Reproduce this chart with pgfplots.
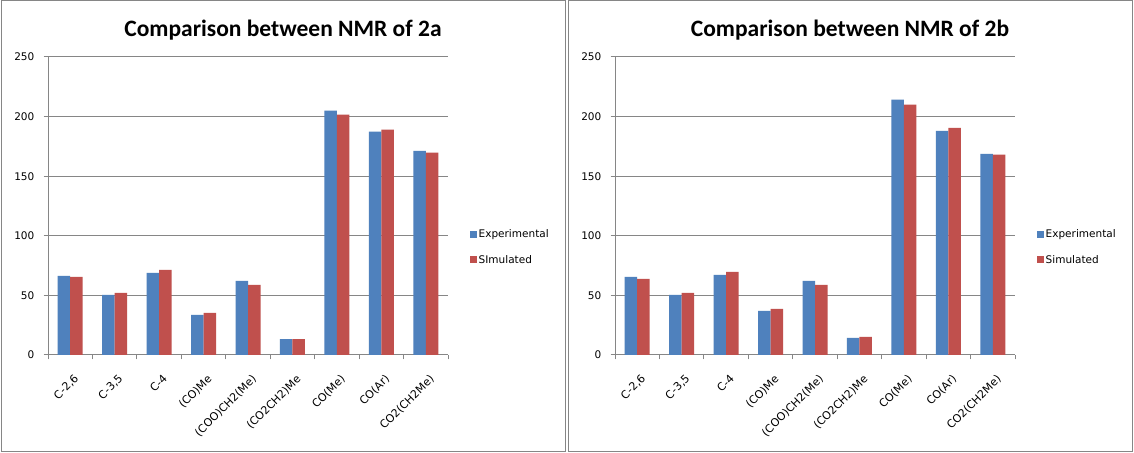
\documentclass[border=0pt]{standalone}
\usepackage{pgfplots}
\usepackage{pgfplotstable}
\pgfplotsset{compat=1.18}
\usepackage{fontspec}
\setmainfont{DejaVu Sans}
\newfontfamily\titlefont{Carlito}
\definecolor{exblue}{HTML}{4F81BD}
\definecolor{exred}{HTML}{C0504D}
\definecolor{gridgray}{HTML}{868686}

\pgfplotstableread{
x exp sim
0 66.3 65.5
1 50.4 52.1
2 68.9 71.4
3 33.6 35.3
4 62.2 58.8
5 13.4 13.4
6 204.9 201.6
7 187.3 189.0
8 171.3 169.7
}\dataA

\pgfplotstableread{
x exp sim
0 65.5 63.8
1 50.4 52.1
2 67.2 69.7
3 37.0 38.6
4 62.2 58.8
5 14.3 15.1
6 214.2 210.0
7 188.1 190.6
8 168.8 168.0
}\dataB

\pgfplotsset{
  nmr/.style={
    width=400bp, height=298bp, scale only axis,
    anchor=south west,
    ymin=0, ymax=250, ytick={0,50,...,250},
    xmin=-0.5, xmax=8.5,
    xtick={-0.5,0.5,...,8.5},
    x tick label as interval,
    xticklabels={{C-2,6}, {C-3,5}, {C-4}, {(CO)Me}, {(COO)CH2(Me)}, {(CO2CH2)Me}, {CO(Me)}, {CO(Ar)}, {CO2(CH2Me)}},
    ymajorgrids, grid style={gridgray, line width=1bp},
    axis x line*=bottom, axis y line*=left,
    axis line style={gridgray, line width=1bp},
    tick style={gridgray, line width=1bp},
    major tick length=4.5bp, tick align=outside,
    /pgf/number format/assume math mode=true,
    ticklabel style={font=\fontsize{10.5bp}{12bp}\selectfont, text=black},
    yticklabel style={inner sep=0pt, anchor=east, xshift=-9bp},
    xticklabel style={inner sep=0pt, font=\fontsize{11bp}{12bp}\selectfont, rotate=45, anchor=north east, xshift=-7.8bp, yshift=-12bp},
    ybar=0pt, bar width=12.5bp,
    legend style={draw=none, fill=none, at={(1,0.362)}, anchor=west, xshift=22bp,
      font=\fontsize{10.5bp}{12bp}\selectfont, inner sep=0pt, row sep=13bp,
      nodes={inner sep=1.5bp, anchor=west}},
    legend cell align=left,
    legend image code/.code={\fill[##1] (0bp,-3.5bp) rectangle (7bp,3.5bp);},
  }
}

\begin{document}
\begin{tikzpicture}[x=1bp,y=1bp]
\path[use as bounding box] (0,0) rectangle (1134,453);
\fill[white] (0,0) rectangle (1134,453);
\draw[gridgray, line width=1bp] (1.5,1.5) rectangle (565,452);
\draw[gridgray, line width=1bp] (568,1.5) rectangle (1132.5,452);
\node[font=\titlefont\bfseries\fontsize{23.5bp}{27bp}\selectfont, anchor=base] at (283,416) {Comparison between NMR of 2a};
\node[font=\titlefont\bfseries\fontsize{23.5bp}{27bp}\selectfont, anchor=base] at (850,416) {Comparison between NMR of 2b};

\begin{axis}[nmr, at={(48bp,98bp)}]
\addplot[fill=exblue, draw=none] table[x=x, y=exp]{\dataA};
\addplot[fill=exred, draw=none] table[x=x, y=sim]{\dataA};
\legend{Experimental, SImulated}
\end{axis}

\begin{axis}[nmr, at={(615bp,98bp)}]
\addplot[fill=exblue, draw=none] table[x=x, y=exp]{\dataB};
\addplot[fill=exred, draw=none] table[x=x, y=sim]{\dataB};
\legend{Experimental, Simulated}
\end{axis}
\end{tikzpicture}
\end{document}
